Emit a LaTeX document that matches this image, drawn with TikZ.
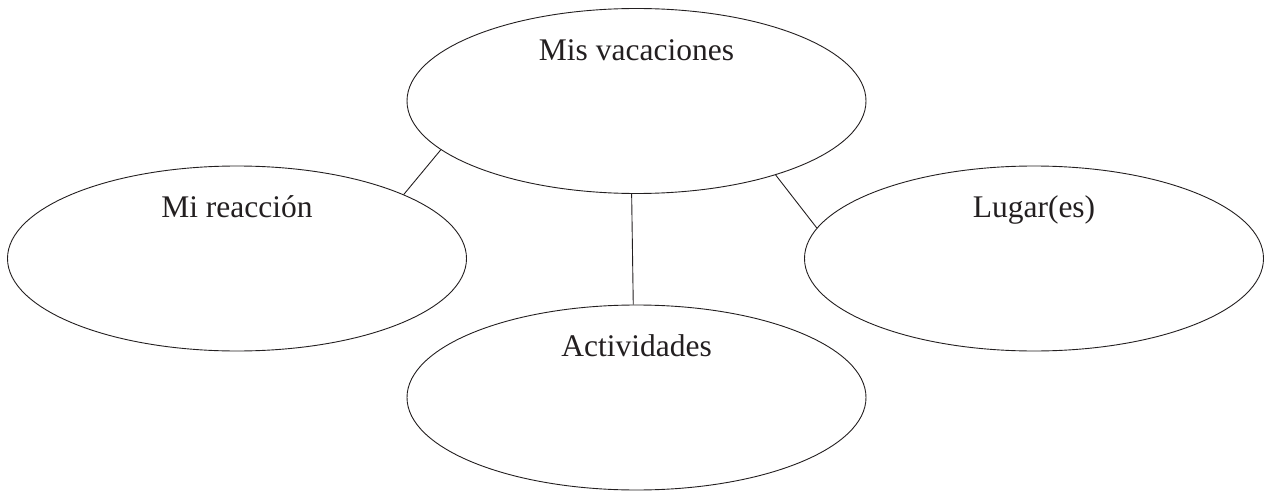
\documentclass[tikz,border=0pt]{standalone}
\usepackage{fontspec}
\setmainfont{Liberation Serif}
\usetikzlibrary{shapes.geometric}
\definecolor{ink}{RGB}{35,31,32}
\tikzset{
  bubble/.style = {shape=ellipse, draw=ink, line width=0.9pt,
                   minimum width=459pt, minimum height=185pt, inner sep=0pt},
  title/.style  = {anchor=base, text=ink, inner sep=0pt,
                   font=\fontsize{31.5}{36}\selectfont},
  link/.style   = {draw=ink, line width=0.9pt}
}

\begin{document}
\begin{tikzpicture}[x=1pt, y=1pt]
  \useasboundingbox (0,0) rectangle (1264,491);
  % the four bubbles
  \node [bubble] (vac) at (636.5,390) {};
  \node [bubble] (reac) at (237,232.5) {};
  \node [bubble] (lug) at (1034,232.5) {};
  \node [bubble] (act) at (636.5,93.5) {};
  % their titles
  \node [title] (vacT) at ([yshift=-52pt]vac.north) {Mis vacaciones};
  \node [title] (reacT) at ([yshift=-52pt]reac.north) {Mi reacción};
  \node [title] (lugT) at ([yshift=-52pt]lug.north) {Lugar(es)};
  \node [title] (actT) at ([yshift=-52pt]act.north) {Actividades};
  % connectors
  \draw [link] (vac.194.1) -- (reac.21);
  \draw [link] (vac.332.1) -- (lug.172);
  \draw [link] (vac.267.8) -- (act.92.2);
\end{tikzpicture}
\end{document}
